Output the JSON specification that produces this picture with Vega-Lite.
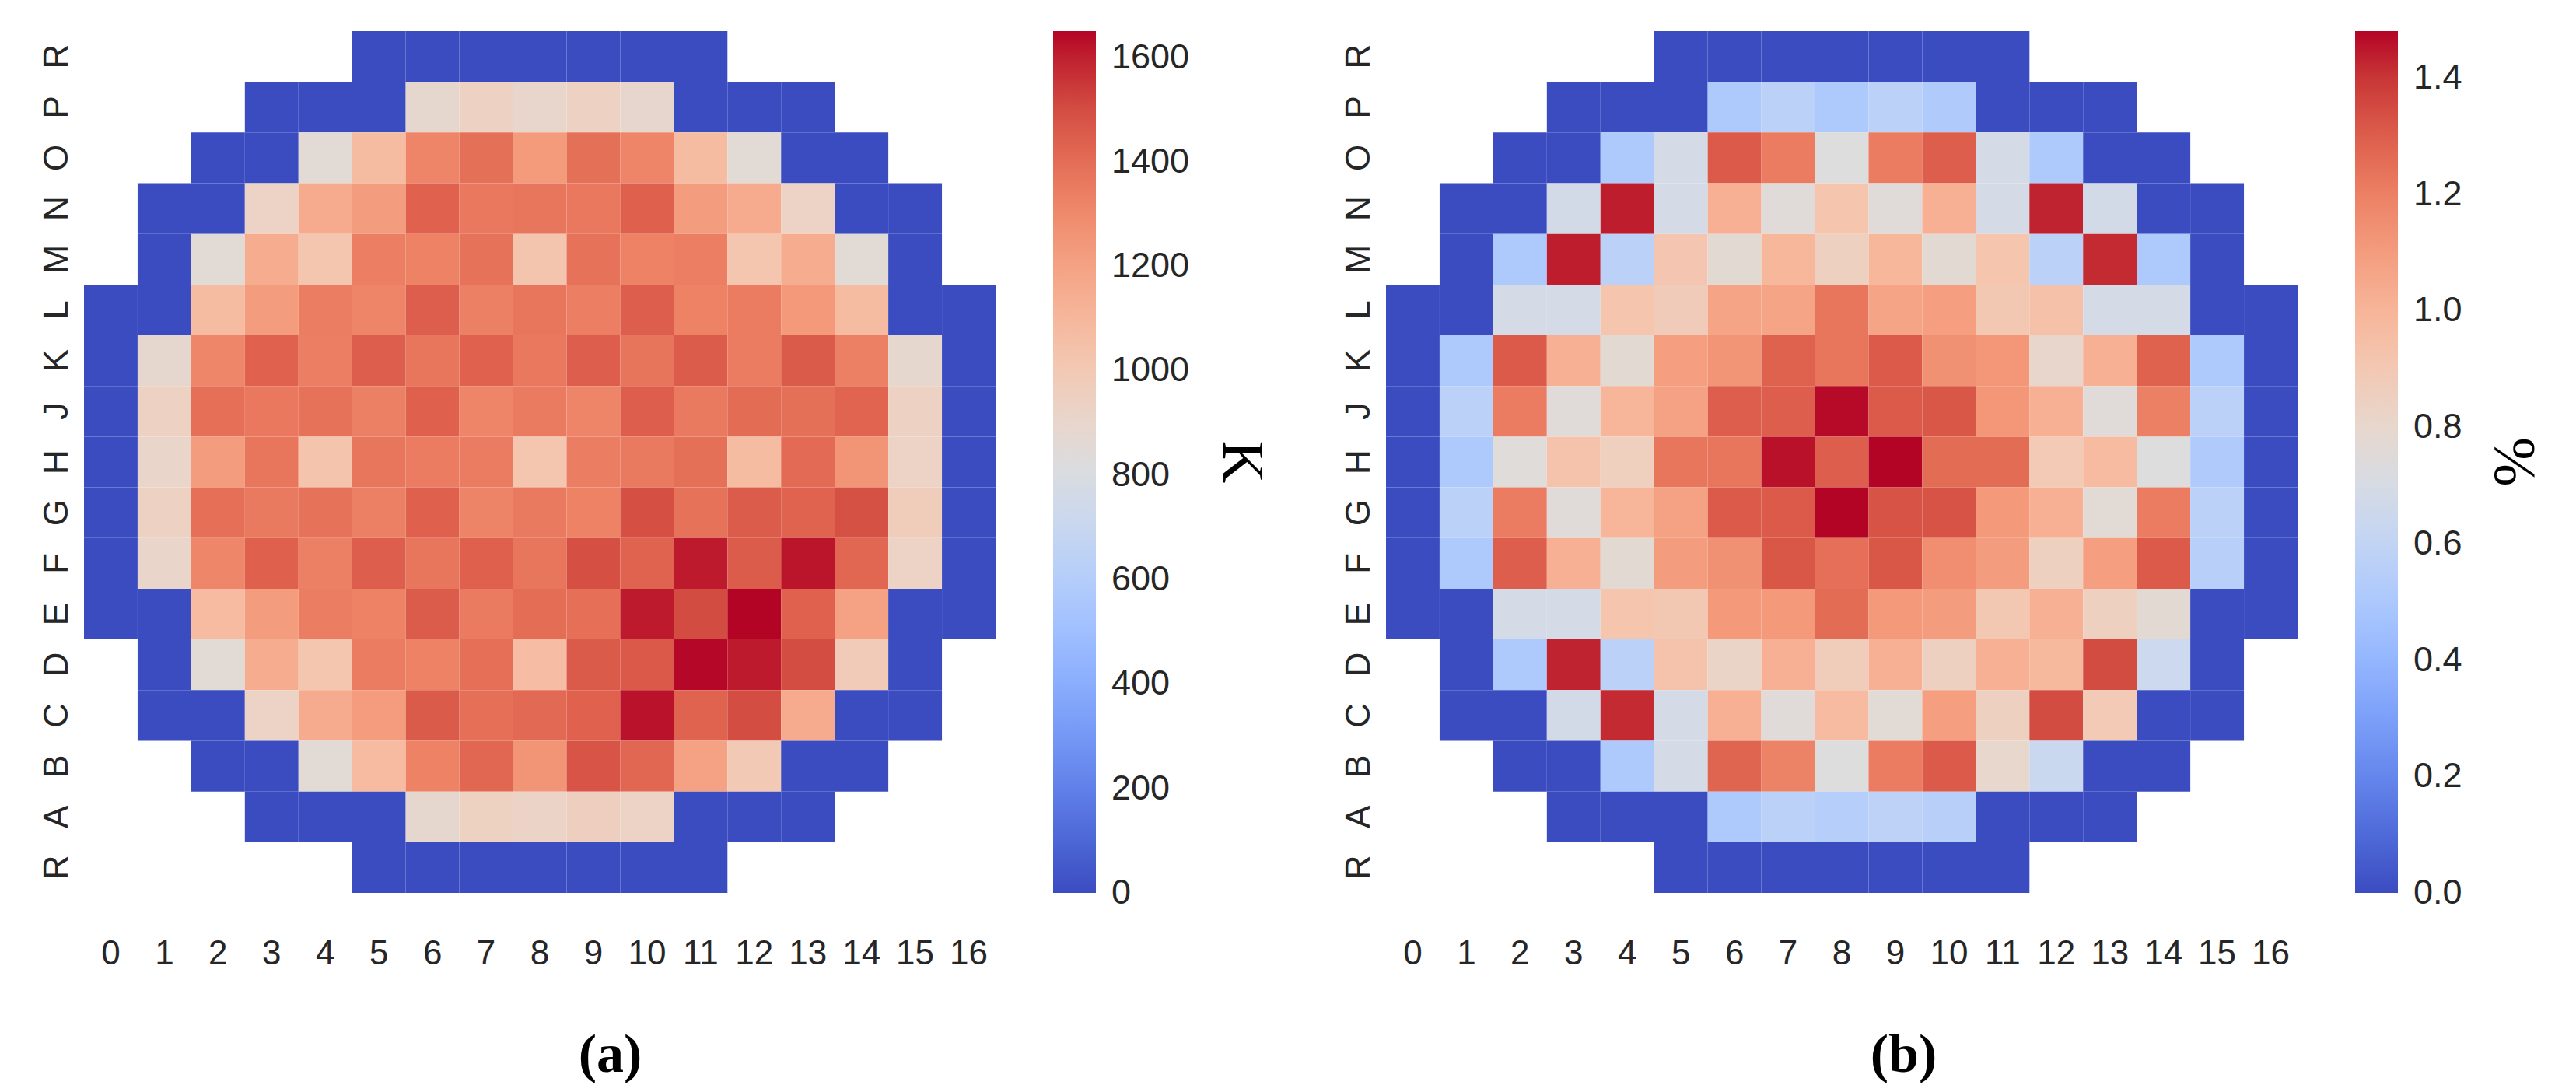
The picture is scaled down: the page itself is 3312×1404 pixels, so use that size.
{
"$schema": "https://vega.github.io/schema/vega-lite/v6.json",
"background": "white",
"padding": {"left": 50, "top": 40, "right": 30, "bottom": 10},
"config": {"view": {"stroke": null}, "font": "Liberation Sans"},
"spacing": 90,
"resolve": {"scale": {"color": "independent"}, "legend": {"color": "independent"}},
"datasets": {
"a": [
{"r":0,"c":5,"v":0},{"r":0,"c":6,"v":0},{"r":0,"c":7,"v":0},{"r":0,"c":8,"v":0},{"r":0,"c":9,"v":0},{"r":0,"c":10,"v":0},{"r":0,"c":11,"v":0},
{"r":1,"c":3,"v":0},{"r":1,"c":4,"v":0},{"r":1,"c":5,"v":0},{"r":1,"c":6,"v":890},{"r":1,"c":7,"v":935},{"r":1,"c":8,"v":900},{"r":1,"c":9,"v":935},{"r":1,"c":10,"v":895},{"r":1,"c":11,"v":0},{"r":1,"c":12,"v":0},{"r":1,"c":13,"v":0},
{"r":2,"c":2,"v":0},{"r":2,"c":3,"v":0},{"r":2,"c":4,"v":860},{"r":2,"c":5,"v":1075},{"r":2,"c":6,"v":1320},{"r":2,"c":7,"v":1390},{"r":2,"c":8,"v":1235},{"r":2,"c":9,"v":1390},{"r":2,"c":10,"v":1320},{"r":2,"c":11,"v":1075},{"r":2,"c":12,"v":860},{"r":2,"c":13,"v":0},{"r":2,"c":14,"v":0},
{"r":3,"c":1,"v":0},{"r":3,"c":2,"v":0},{"r":3,"c":3,"v":925},{"r":3,"c":4,"v":1160},{"r":3,"c":5,"v":1225},{"r":3,"c":6,"v":1440},{"r":3,"c":7,"v":1365},{"r":3,"c":8,"v":1370},{"r":3,"c":9,"v":1365},{"r":3,"c":10,"v":1445},{"r":3,"c":11,"v":1225},{"r":3,"c":12,"v":1160},{"r":3,"c":13,"v":925},{"r":3,"c":14,"v":0},{"r":3,"c":15,"v":0},
{"r":4,"c":1,"v":0},{"r":4,"c":2,"v":860},{"r":4,"c":3,"v":1155},{"r":4,"c":4,"v":1020},{"r":4,"c":5,"v":1340},{"r":4,"c":6,"v":1330},{"r":4,"c":7,"v":1385},{"r":4,"c":8,"v":1025},{"r":4,"c":9,"v":1385},{"r":4,"c":10,"v":1330},{"r":4,"c":11,"v":1340},{"r":4,"c":12,"v":1020},{"r":4,"c":13,"v":1155},{"r":4,"c":14,"v":860},{"r":4,"c":15,"v":0},
{"r":5,"c":0,"v":0},{"r":5,"c":1,"v":0},{"r":5,"c":2,"v":1075},{"r":5,"c":3,"v":1225},{"r":5,"c":4,"v":1345},{"r":5,"c":5,"v":1320},{"r":5,"c":6,"v":1450},{"r":5,"c":7,"v":1335},{"r":5,"c":8,"v":1370},{"r":5,"c":9,"v":1340},{"r":5,"c":10,"v":1450},{"r":5,"c":11,"v":1330},{"r":5,"c":12,"v":1350},{"r":5,"c":13,"v":1240},{"r":5,"c":14,"v":1075},{"r":5,"c":15,"v":0},{"r":5,"c":16,"v":0},
{"r":6,"c":0,"v":0},{"r":6,"c":1,"v":890},{"r":6,"c":2,"v":1315},{"r":6,"c":3,"v":1440},{"r":6,"c":4,"v":1340},{"r":6,"c":5,"v":1450},{"r":6,"c":6,"v":1370},{"r":6,"c":7,"v":1440},{"r":6,"c":8,"v":1365},{"r":6,"c":9,"v":1450},{"r":6,"c":10,"v":1375},{"r":6,"c":11,"v":1455},{"r":6,"c":12,"v":1350},{"r":6,"c":13,"v":1460},{"r":6,"c":14,"v":1335},{"r":6,"c":15,"v":890},{"r":6,"c":16,"v":0},
{"r":7,"c":0,"v":0},{"r":7,"c":1,"v":935},{"r":7,"c":2,"v":1395},{"r":7,"c":3,"v":1365},{"r":7,"c":4,"v":1385},{"r":7,"c":5,"v":1335},{"r":7,"c":6,"v":1445},{"r":7,"c":7,"v":1320},{"r":7,"c":8,"v":1355},{"r":7,"c":9,"v":1320},{"r":7,"c":10,"v":1450},{"r":7,"c":11,"v":1360},{"r":7,"c":12,"v":1405},{"r":7,"c":13,"v":1390},{"r":7,"c":14,"v":1430},{"r":7,"c":15,"v":940},{"r":7,"c":16,"v":0},
{"r":8,"c":0,"v":0},{"r":8,"c":1,"v":905},{"r":8,"c":2,"v":1225},{"r":8,"c":3,"v":1370},{"r":8,"c":4,"v":1030},{"r":8,"c":5,"v":1370},{"r":8,"c":6,"v":1350},{"r":8,"c":7,"v":1350},{"r":8,"c":8,"v":1020},{"r":8,"c":9,"v":1345},{"r":8,"c":10,"v":1360},{"r":8,"c":11,"v":1390},{"r":8,"c":12,"v":1075},{"r":8,"c":13,"v":1410},{"r":8,"c":14,"v":1260},{"r":8,"c":15,"v":925},{"r":8,"c":16,"v":0},
{"r":9,"c":0,"v":0},{"r":9,"c":1,"v":935},{"r":9,"c":2,"v":1395},{"r":9,"c":3,"v":1360},{"r":9,"c":4,"v":1385},{"r":9,"c":5,"v":1335},{"r":9,"c":6,"v":1445},{"r":9,"c":7,"v":1325},{"r":9,"c":8,"v":1360},{"r":9,"c":9,"v":1330},{"r":9,"c":10,"v":1495},{"r":9,"c":11,"v":1385},{"r":9,"c":12,"v":1455},{"r":9,"c":13,"v":1435},{"r":9,"c":14,"v":1490},{"r":9,"c":15,"v":975},{"r":9,"c":16,"v":0},
{"r":10,"c":0,"v":0},{"r":10,"c":1,"v":905},{"r":10,"c":2,"v":1315},{"r":10,"c":3,"v":1445},{"r":10,"c":4,"v":1335},{"r":10,"c":5,"v":1450},{"r":10,"c":6,"v":1370},{"r":10,"c":7,"v":1445},{"r":10,"c":8,"v":1370},{"r":10,"c":9,"v":1495},{"r":10,"c":10,"v":1435},{"r":10,"c":11,"v":1610},{"r":10,"c":12,"v":1455},{"r":10,"c":13,"v":1620},{"r":10,"c":14,"v":1420},{"r":10,"c":15,"v":930},{"r":10,"c":16,"v":0},
{"r":11,"c":0,"v":0},{"r":11,"c":1,"v":0},{"r":11,"c":2,"v":1080},{"r":11,"c":3,"v":1225},{"r":11,"c":4,"v":1345},{"r":11,"c":5,"v":1330},{"r":11,"c":6,"v":1455},{"r":11,"c":7,"v":1355},{"r":11,"c":8,"v":1400},{"r":11,"c":9,"v":1395},{"r":11,"c":10,"v":1610},{"r":11,"c":11,"v":1505},{"r":11,"c":12,"v":1650},{"r":11,"c":13,"v":1440},{"r":11,"c":14,"v":1200},{"r":11,"c":15,"v":0},{"r":11,"c":16,"v":0},
{"r":12,"c":1,"v":0},{"r":12,"c":2,"v":860},{"r":12,"c":3,"v":1155},{"r":12,"c":4,"v":1020},{"r":12,"c":5,"v":1350},{"r":12,"c":6,"v":1330},{"r":12,"c":7,"v":1395},{"r":12,"c":8,"v":1070},{"r":12,"c":9,"v":1460},{"r":12,"c":10,"v":1465},{"r":12,"c":11,"v":1645},{"r":12,"c":12,"v":1610},{"r":12,"c":13,"v":1500},{"r":12,"c":14,"v":985},{"r":12,"c":15,"v":0},
{"r":13,"c":1,"v":0},{"r":13,"c":2,"v":0},{"r":13,"c":3,"v":925},{"r":13,"c":4,"v":1160},{"r":13,"c":5,"v":1230},{"r":13,"c":6,"v":1460},{"r":13,"c":7,"v":1395},{"r":13,"c":8,"v":1415},{"r":13,"c":9,"v":1440},{"r":13,"c":10,"v":1625},{"r":13,"c":11,"v":1435},{"r":13,"c":12,"v":1500},{"r":13,"c":13,"v":1160},{"r":13,"c":14,"v":0},{"r":13,"c":15,"v":0},
{"r":14,"c":2,"v":0},{"r":14,"c":3,"v":0},{"r":14,"c":4,"v":860},{"r":14,"c":5,"v":1080},{"r":14,"c":6,"v":1330},{"r":14,"c":7,"v":1420},{"r":14,"c":8,"v":1260},{"r":14,"c":9,"v":1480},{"r":14,"c":10,"v":1420},{"r":14,"c":11,"v":1205},{"r":14,"c":12,"v":1000},{"r":14,"c":13,"v":0},{"r":14,"c":14,"v":0},
{"r":15,"c":3,"v":0},{"r":15,"c":4,"v":0},{"r":15,"c":5,"v":0},{"r":15,"c":6,"v":890},{"r":15,"c":7,"v":945},{"r":15,"c":8,"v":920},{"r":15,"c":9,"v":955},{"r":15,"c":10,"v":925},{"r":15,"c":11,"v":0},{"r":15,"c":12,"v":0},{"r":15,"c":13,"v":0},
{"r":16,"c":5,"v":0},{"r":16,"c":6,"v":0},{"r":16,"c":7,"v":0},{"r":16,"c":8,"v":0},{"r":16,"c":9,"v":0},{"r":16,"c":10,"v":0},{"r":16,"c":11,"v":0}
],
"b": [
{"r":0,"c":5,"v":0},{"r":0,"c":6,"v":0},{"r":0,"c":7,"v":0},{"r":0,"c":8,"v":0},{"r":0,"c":9,"v":0},{"r":0,"c":10,"v":0},{"r":0,"c":11,"v":0},
{"r":1,"c":3,"v":0},{"r":1,"c":4,"v":0},{"r":1,"c":5,"v":0},{"r":1,"c":6,"v":0.51},{"r":1,"c":7,"v":0.57},{"r":1,"c":8,"v":0.51},{"r":1,"c":9,"v":0.57},{"r":1,"c":10,"v":0.52},{"r":1,"c":11,"v":0},{"r":1,"c":12,"v":0},{"r":1,"c":13,"v":0},
{"r":2,"c":2,"v":0},{"r":2,"c":3,"v":0},{"r":2,"c":4,"v":0.51},{"r":2,"c":5,"v":0.69},{"r":2,"c":6,"v":1.31},{"r":2,"c":7,"v":1.21},{"r":2,"c":8,"v":0.74},{"r":2,"c":9,"v":1.21},{"r":2,"c":10,"v":1.30},{"r":2,"c":11,"v":0.69},{"r":2,"c":12,"v":0.51},{"r":2,"c":13,"v":0},{"r":2,"c":14,"v":0},
{"r":3,"c":1,"v":0},{"r":3,"c":2,"v":0},{"r":3,"c":3,"v":0.68},{"r":3,"c":4,"v":1.44},{"r":3,"c":5,"v":0.69},{"r":3,"c":6,"v":1.02},{"r":3,"c":7,"v":0.76},{"r":3,"c":8,"v":0.92},{"r":3,"c":9,"v":0.76},{"r":3,"c":10,"v":1.02},{"r":3,"c":11,"v":0.69},{"r":3,"c":12,"v":1.43},{"r":3,"c":13,"v":0.68},{"r":3,"c":14,"v":0},{"r":3,"c":15,"v":0},
{"r":4,"c":1,"v":0},{"r":4,"c":2,"v":0.51},{"r":4,"c":3,"v":1.44},{"r":4,"c":4,"v":0.57},{"r":4,"c":5,"v":0.91},{"r":4,"c":6,"v":0.78},{"r":4,"c":7,"v":0.99},{"r":4,"c":8,"v":0.85},{"r":4,"c":9,"v":0.99},{"r":4,"c":10,"v":0.78},{"r":4,"c":11,"v":0.92},{"r":4,"c":12,"v":0.57},{"r":4,"c":13,"v":1.42},{"r":4,"c":14,"v":0.51},{"r":4,"c":15,"v":0},
{"r":5,"c":0,"v":0},{"r":5,"c":1,"v":0},{"r":5,"c":2,"v":0.69},{"r":5,"c":3,"v":0.69},{"r":5,"c":4,"v":0.92},{"r":5,"c":5,"v":0.88},{"r":5,"c":6,"v":1.07},{"r":5,"c":7,"v":1.07},{"r":5,"c":8,"v":1.23},{"r":5,"c":9,"v":1.07},{"r":5,"c":10,"v":1.09},{"r":5,"c":11,"v":0.90},{"r":5,"c":12,"v":0.94},{"r":5,"c":13,"v":0.69},{"r":5,"c":14,"v":0.69},{"r":5,"c":15,"v":0},{"r":5,"c":16,"v":0},
{"r":6,"c":0,"v":0},{"r":6,"c":1,"v":0.51},{"r":6,"c":2,"v":1.31},{"r":6,"c":3,"v":1.02},{"r":6,"c":4,"v":0.78},{"r":6,"c":5,"v":1.09},{"r":6,"c":6,"v":1.13},{"r":6,"c":7,"v":1.29},{"r":6,"c":8,"v":1.23},{"r":6,"c":9,"v":1.31},{"r":6,"c":10,"v":1.14},{"r":6,"c":11,"v":1.12},{"r":6,"c":12,"v":0.81},{"r":6,"c":13,"v":1.02},{"r":6,"c":14,"v":1.29},{"r":6,"c":15,"v":0.51},{"r":6,"c":16,"v":0},
{"r":7,"c":0,"v":0},{"r":7,"c":1,"v":0.57},{"r":7,"c":2,"v":1.21},{"r":7,"c":3,"v":0.76},{"r":7,"c":4,"v":1.00},{"r":7,"c":5,"v":1.08},{"r":7,"c":6,"v":1.30},{"r":7,"c":7,"v":1.30},{"r":7,"c":8,"v":1.47},{"r":7,"c":9,"v":1.31},{"r":7,"c":10,"v":1.32},{"r":7,"c":11,"v":1.12},{"r":7,"c":12,"v":1.02},{"r":7,"c":13,"v":0.76},{"r":7,"c":14,"v":1.20},{"r":7,"c":15,"v":0.57},{"r":7,"c":16,"v":0},
{"r":8,"c":0,"v":0},{"r":8,"c":1,"v":0.51},{"r":8,"c":2,"v":0.75},{"r":8,"c":3,"v":0.93},{"r":8,"c":4,"v":0.86},{"r":8,"c":5,"v":1.23},{"r":8,"c":6,"v":1.23},{"r":8,"c":7,"v":1.46},{"r":8,"c":8,"v":1.30},{"r":8,"c":9,"v":1.48},{"r":8,"c":10,"v":1.26},{"r":8,"c":11,"v":1.26},{"r":8,"c":12,"v":0.89},{"r":8,"c":13,"v":0.97},{"r":8,"c":14,"v":0.74},{"r":8,"c":15,"v":0.52},{"r":8,"c":16,"v":0},
{"r":9,"c":0,"v":0},{"r":9,"c":1,"v":0.57},{"r":9,"c":2,"v":1.21},{"r":9,"c":3,"v":0.76},{"r":9,"c":4,"v":1.00},{"r":9,"c":5,"v":1.08},{"r":9,"c":6,"v":1.31},{"r":9,"c":7,"v":1.31},{"r":9,"c":8,"v":1.48},{"r":9,"c":9,"v":1.33},{"r":9,"c":10,"v":1.33},{"r":9,"c":11,"v":1.11},{"r":9,"c":12,"v":1.02},{"r":9,"c":13,"v":0.77},{"r":9,"c":14,"v":1.21},{"r":9,"c":15,"v":0.57},{"r":9,"c":16,"v":0},
{"r":10,"c":0,"v":0},{"r":10,"c":1,"v":0.51},{"r":10,"c":2,"v":1.30},{"r":10,"c":3,"v":1.02},{"r":10,"c":4,"v":0.78},{"r":10,"c":5,"v":1.10},{"r":10,"c":6,"v":1.14},{"r":10,"c":7,"v":1.32},{"r":10,"c":8,"v":1.25},{"r":10,"c":9,"v":1.32},{"r":10,"c":10,"v":1.15},{"r":10,"c":11,"v":1.10},{"r":10,"c":12,"v":0.85},{"r":10,"c":13,"v":1.09},{"r":10,"c":14,"v":1.31},{"r":10,"c":15,"v":0.55},{"r":10,"c":16,"v":0},
{"r":11,"c":0,"v":0},{"r":11,"c":1,"v":0},{"r":11,"c":2,"v":0.69},{"r":11,"c":3,"v":0.69},{"r":11,"c":4,"v":0.92},{"r":11,"c":5,"v":0.90},{"r":11,"c":6,"v":1.11},{"r":11,"c":7,"v":1.11},{"r":11,"c":8,"v":1.26},{"r":11,"c":9,"v":1.11},{"r":11,"c":10,"v":1.10},{"r":11,"c":11,"v":0.90},{"r":11,"c":12,"v":1.02},{"r":11,"c":13,"v":0.85},{"r":11,"c":14,"v":0.78},{"r":11,"c":15,"v":0},{"r":11,"c":16,"v":0},
{"r":12,"c":1,"v":0},{"r":12,"c":2,"v":0.51},{"r":12,"c":3,"v":1.43},{"r":12,"c":4,"v":0.57},{"r":12,"c":5,"v":0.93},{"r":12,"c":6,"v":0.82},{"r":12,"c":7,"v":1.02},{"r":12,"c":8,"v":0.87},{"r":12,"c":9,"v":1.02},{"r":12,"c":10,"v":0.85},{"r":12,"c":11,"v":1.02},{"r":12,"c":12,"v":0.98},{"r":12,"c":13,"v":1.35},{"r":12,"c":14,"v":0.65},{"r":12,"c":15,"v":0},
{"r":13,"c":1,"v":0},{"r":13,"c":2,"v":0},{"r":13,"c":3,"v":0.68},{"r":13,"c":4,"v":1.42},{"r":13,"c":5,"v":0.69},{"r":13,"c":6,"v":1.02},{"r":13,"c":7,"v":0.76},{"r":13,"c":8,"v":0.97},{"r":13,"c":9,"v":0.77},{"r":13,"c":10,"v":1.09},{"r":13,"c":11,"v":0.85},{"r":13,"c":12,"v":1.35},{"r":13,"c":13,"v":0.89},{"r":13,"c":14,"v":0},{"r":13,"c":15,"v":0},
{"r":14,"c":2,"v":0},{"r":14,"c":3,"v":0},{"r":14,"c":4,"v":0.51},{"r":14,"c":5,"v":0.69},{"r":14,"c":6,"v":1.28},{"r":14,"c":7,"v":1.19},{"r":14,"c":8,"v":0.74},{"r":14,"c":9,"v":1.21},{"r":14,"c":10,"v":1.31},{"r":14,"c":11,"v":0.80},{"r":14,"c":12,"v":0.64},{"r":14,"c":13,"v":0},{"r":14,"c":14,"v":0},
{"r":15,"c":3,"v":0},{"r":15,"c":4,"v":0},{"r":15,"c":5,"v":0},{"r":15,"c":6,"v":0.51},{"r":15,"c":7,"v":0.57},{"r":15,"c":8,"v":0.54},{"r":15,"c":9,"v":0.58},{"r":15,"c":10,"v":0.55},{"r":15,"c":11,"v":0},{"r":15,"c":12,"v":0},{"r":15,"c":13,"v":0},
{"r":16,"c":5,"v":0},{"r":16,"c":6,"v":0},{"r":16,"c":7,"v":0},{"r":16,"c":8,"v":0},{"r":16,"c":9,"v":0},{"r":16,"c":10,"v":0},{"r":16,"c":11,"v":0}
]
},
"hconcat": [
{
"data": {"name": "a"},
"width": 1172, "height": 1108,
"mark": {"type": "rect", "strokeWidth": 0},
"encoding": {
"x": {"field": "c", "type": "ordinal",
 "scale": {"domain": [0,1,2,3,4,5,6,7,8,9,10,11,12,13,14,15,16], "paddingInner": 0, "paddingOuter": 0},
 "axis": {"domain": false, "ticks": false, "labelAngle": 0, "labelPadding": 56, "labelFontSize": 44, "labelColor": "#262626",
  "title": "(a)", "titleFont": "Liberation Serif", "titleFontWeight": "bold", "titleFontSize": 70, "titleColor": "black", "titlePadding": 74, "titleX": 676, "titleAlign": "center"}},
"y": {"field": "r", "type": "ordinal",
 "scale": {"domain": [0,1,2,3,4,5,6,7,8,9,10,11,12,13,14,15,16], "paddingInner": 0, "paddingOuter": 0},
 "axis": {"domain": false, "ticks": false, "labelAngle": 270, "labelAlign": "center", "labelBaseline": "alphabetic", "labelPadding": 22, "labelFontSize": 44, "labelColor": "#262626", "title": null,
  "labelExpr": "['R','P','O','N','M','L','K','J','H','G','F','E','D','C','B','A','R'][datum.value]"}},
"color": {"field": "v", "type": "quantitative",
 "scale": {"domain": [0,103.125,206.25,309.375,412.5,515.625,618.75,721.875,825,928.125,1031.25,1134.375,1237.5,1340.625,1443.75,1546.875,1650],
  "range": ["#3b4cc0","#4d68d7","#6282ea","#779af7","#8db0fe","#a3c2ff","#b8d0f9","#ccd9ee","#dddddd","#ecd3c5","#f5c4ad","#f7b194","#f49a7b","#ec7f63","#de604d","#cb3e38","#b40426"], "interpolate": "rgb"},
 "legend": {"title": "K", "orient": "right", "direction": "vertical", "offset": 74, "padding": 0,
  "gradientLength": 1108, "gradientThickness": 55, "gradientStrokeWidth": 0,
  "values": [0,200,400,600,800,1000,1200,1400,1600], "format": "d", "labelFontSize": 45, "labelOffset": 20, "labelColor": "#262626", "labelOverlap": false,
  "titleFont": "Liberation Serif", "titleFontSize": 76, "titleFontWeight": "normal", "titleColor": "black", "titleOrient": "right", "titleAnchor": "middle", "titleAngle": 270, "titlePadding": 28,
  "encode": {"labels": {"update": {"baseline": {"value": "middle"}}}}}}
}
},
{
"data": {"name": "b"},
"width": 1172, "height": 1108,
"mark": {"type": "rect", "strokeWidth": 0},
"encoding": {
"x": {"field": "c", "type": "ordinal",
 "scale": {"domain": [0,1,2,3,4,5,6,7,8,9,10,11,12,13,14,15,16], "paddingInner": 0, "paddingOuter": 0},
 "axis": {"domain": false, "ticks": false, "labelAngle": 0, "labelPadding": 56, "labelFontSize": 44, "labelColor": "#262626",
  "title": "(b)", "titleFont": "Liberation Serif", "titleFontWeight": "bold", "titleFontSize": 70, "titleColor": "black", "titlePadding": 74, "titleX": 665, "titleAlign": "center"}},
"y": {"field": "r", "type": "ordinal",
 "scale": {"domain": [0,1,2,3,4,5,6,7,8,9,10,11,12,13,14,15,16], "paddingInner": 0, "paddingOuter": 0},
 "axis": {"domain": false, "ticks": false, "labelAngle": 270, "labelAlign": "center", "labelBaseline": "alphabetic", "labelPadding": 22, "labelFontSize": 44, "labelColor": "#262626", "title": null,
  "labelExpr": "['R','P','O','N','M','L','K','J','H','G','F','E','D','C','B','A','R'][datum.value]"}},
"color": {"field": "v", "type": "quantitative",
 "scale": {"domain": [0,0.0925,0.185,0.2775,0.37,0.4625,0.555,0.6475,0.74,0.8325,0.925,1.0175,1.11,1.2025,1.295,1.3875,1.48],
  "range": ["#3b4cc0","#4d68d7","#6282ea","#779af7","#8db0fe","#a3c2ff","#b8d0f9","#ccd9ee","#dddddd","#ecd3c5","#f5c4ad","#f7b194","#f49a7b","#ec7f63","#de604d","#cb3e38","#b40426"], "interpolate": "rgb"},
 "legend": {"title": "%", "orient": "right", "direction": "vertical", "offset": 74, "padding": 0,
  "gradientLength": 1108, "gradientThickness": 55, "gradientStrokeWidth": 0,
  "values": [0,0.2,0.4,0.6,0.8,1.0,1.2,1.4], "format": ".1f", "labelFontSize": 45, "labelOffset": 20, "labelColor": "#262626", "labelOverlap": false,
  "titleFont": "Liberation Serif", "titleFontSize": 76, "titleFontWeight": "normal", "titleColor": "black", "titleOrient": "right", "titleAnchor": "middle", "titleAngle": 270, "titlePadding": 26,
  "encode": {"labels": {"update": {"baseline": {"value": "middle"}}}}}}
}
}
]
}
